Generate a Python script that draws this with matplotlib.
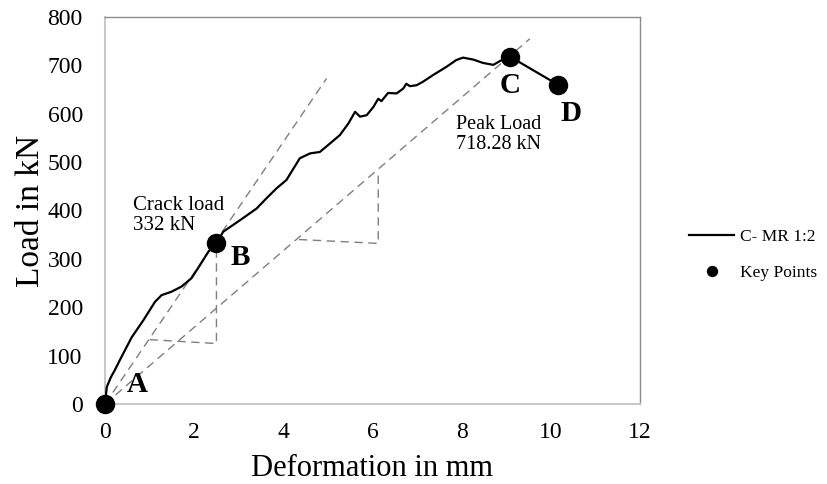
import numpy as np
import matplotlib.pyplot as plt

plt.rcParams["font.family"] = ["Liberation Serif", "DejaVu Serif"]

# 하중-변형 곡선
deform = [0.0, 0.04, 0.13, 0.22, 0.34, 0.6, 0.86, 1.12, 1.27, 1.49, 1.72, 1.94, 2.13, 2.32, 2.5,
          2.65, 3.03, 3.40, 3.62, 3.85, 4.07, 4.37, 4.60, 4.82, 5.04, 5.27, 5.46, 5.61, 5.72,
          5.87, 6.02, 6.13, 6.20, 6.35, 6.54, 6.69, 6.76, 6.84, 6.99, 7.13, 7.36, 7.66, 7.88,
          8.03, 8.26, 8.48, 8.71, 8.86, 9.08, 10.16]
load = [0, 35, 55, 70, 92, 138, 173, 211, 225, 232, 243, 260, 287, 315, 332,
        356, 380, 404, 425, 446, 463, 508, 518, 521, 538, 556, 580, 604, 594,
        597, 614, 631, 626, 643, 642, 652, 662, 657, 659, 666, 680, 697, 711,
        716, 712, 705, 701, 709, 718.28, 660]

# 주요 점 A, B, C, D
key_x = [0.0, 2.5, 9.08, 10.16]
key_y = [0.0, 332, 718.28, 660]
key_labels = ["A", "B", "C", "D"]
key_label_x = [0.72, 3.03, 9.09, 10.46]
key_label_y = [40, 302, 659, 600]

# 보조선 (강성 / 할선)
init_line_x = [0.0, 4.97]
init_line_y = [0.0, 673]
secant_x = [0.0, 9.53]
secant_y = [0.0, 755]
tri1_x = [1.0, 2.5, 2.5]
tri1_y = [133, 125, 325]
tri2_x = [4.35, 6.13, 6.13]
tri2_y = [340, 332, 484]

fig = plt.figure(figsize=(8.28, 4.84), dpi=100)
ax = fig.add_axes([0.1268, 0.1653, 0.6461, 0.7996])

dash_kw = dict(color="#7f7f7f", lw=1.0, dashes=(6, 4), zorder=2)
ax.plot(init_line_x, init_line_y, **dash_kw)
ax.plot(secant_x, secant_y, **dash_kw)
ax.plot(tri1_x, tri1_y, **dash_kw)
ax.plot(tri2_x, tri2_y, **dash_kw)

ax.plot(deform, load, color="black", lw=1.6, label="C- MR 1:2", zorder=3)
ax.plot(key_x, key_y, "o", color="black", ms=13, label="Key Points", zorder=4, clip_on=False)

for lx, ly, t in zip(key_label_x, key_label_y, key_labels):
    ax.text(lx, ly, t, fontsize=21, fontweight="bold", ha="center", va="center")

ax.text(0.63, 430, "Crack load\n332 kN", fontsize=15, ha="left", va="top", linespacing=1.1)
ax.text(7.87, 598, "Peak Load\n718.28 kN", fontsize=14.5, ha="left", va="top", linespacing=1.1)

ax.set_xlim(0, 12)
ax.set_ylim(0, 800)
ax.set_xticks(np.arange(0, 13, 2))
ax.set_yticks(np.arange(0, 801, 100))
ax.tick_params(length=0, labelsize=17)
ax.tick_params(axis="y", pad=16)
ax.tick_params(axis="x", pad=13)
ax.set_xlabel("Deformation in mm", fontsize=22, labelpad=8)
ax.set_ylabel("Load in kN", fontsize=24, labelpad=1)

for side in ["top", "right"]:
    ax.spines[side].set_color("#8c8c8c")
    ax.spines[side].set_linewidth(1.0)
for side in ["left", "bottom"]:
    ax.spines[side].set_color("#c8c8c8")
    ax.spines[side].set_linewidth(1.5)

ax.legend(loc="center left", bbox_to_anchor=(1.063, 0.385), frameon=False, fontsize=12.5,
          markerscale=0.55, handlelength=2.6, labelspacing=1.15, handletextpad=0.3)

fig.savefig("out.png", dpi=100)
